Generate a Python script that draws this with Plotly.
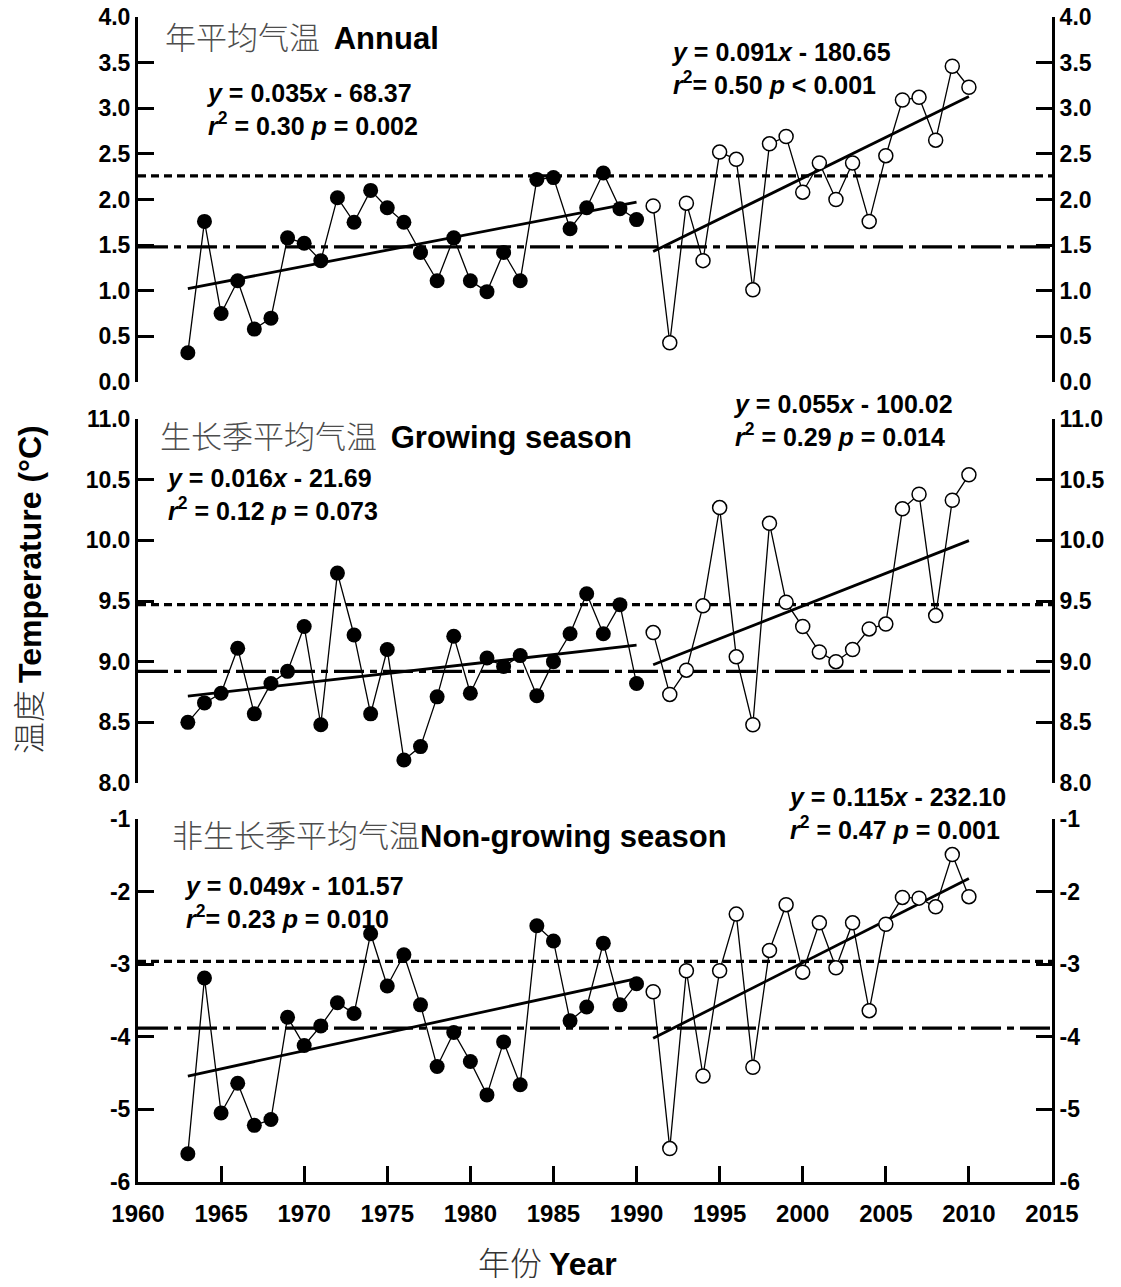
import numpy as np
import plotly.graph_objects as go

# ---- data -----------------------------------------------------------------
years_early = list(range(1963, 1991))
years_late = list(range(1991, 2011))

annual_early = [0.32, 1.76, 0.75, 1.11, 0.58, 0.70, 1.58, 1.52, 1.33, 2.02,
                1.75, 2.10, 1.91, 1.75, 1.42, 1.11, 1.58, 1.11, 0.99, 1.42,
                1.11, 2.22, 2.24, 1.68, 1.91, 2.29, 1.90, 1.78]
annual_late = [1.93, 0.43, 1.96, 1.33, 2.52, 2.44, 1.01, 2.61, 2.69, 2.08,
               2.40, 2.00, 2.40, 1.76, 2.48, 3.09, 3.12, 2.65, 3.46, 3.23]

grow_early = [8.50, 8.66, 8.74, 9.11, 8.57, 8.82, 8.92, 9.29, 8.48, 9.73,
              9.22, 8.57, 9.10, 8.19, 8.30, 8.71, 9.21, 8.74, 9.03, 8.96,
              9.05, 8.72, 9.00, 9.23, 9.56, 9.23, 9.47, 8.82]
grow_late = [9.24, 8.73, 8.93, 9.46, 10.27, 9.04, 8.48, 10.14, 9.49, 9.29,
             9.08, 9.00, 9.10, 9.27, 9.31, 10.26, 10.38, 9.38, 10.33, 10.54]

nongrow_early = [-5.61, -3.19, -5.05, -4.64, -5.22, -5.14, -3.73, -4.12, -3.85, -3.53,
                 -3.68, -2.58, -3.30, -2.87, -3.56, -4.41, -3.94, -4.34, -4.80, -4.07,
                 -4.66, -2.47, -2.68, -3.78, -3.59, -2.71, -3.56, -3.27]
nongrow_late = [-3.38, -5.54, -3.09, -4.54, -3.09, -2.31, -4.42, -2.81, -2.18, -3.11,
                -2.43, -3.05, -2.43, -3.64, -2.45, -2.08, -2.09, -2.21, -1.49, -2.07]

# period means drawn as horizontal reference lines (late = dashed, early = dash-dot)
mean_late = [2.26, 9.47, -2.96]
mean_early = [1.48, 8.92, -3.88]

panel_ranges = [[0, 4], [8, 11], [-6, -1]]
panel_ticks = [
    [0.0, 0.5, 1.0, 1.5, 2.0, 2.5, 3.0, 3.5, 4.0],
    [8.0, 8.5, 9.0, 9.5, 10.0, 10.5, 11.0],
    [-6, -5, -4, -3, -2, -1],
]
panel_ticktext = [
    ["0.0", "0.5", "1.0", "1.5", "2.0", "2.5", "3.0", "3.5", "4.0"],
    ["8.0", "8.5", "9.0", "9.5", "10.0", "10.5", "11.0"],
    ["-6", "-5", "-4", "-3", "-2", "-1"],
]
x_ticks = [1960, 1965, 1970, 1975, 1980, 1985, 1990, 1995, 2000, 2005, 2010, 2015]

panel_titles = [
    ("年平均气温  ", "Annual"),
    ("生长季平均气温  ", "Growing season"),
    ("非生长季平均气温", "Non-growing season"),
]
eq_early = [
    ("0.035", "68.37", "r<sup>2</sup> = 0.30", "p = 0.002"),
    ("0.016", "21.69", "r<sup>2</sup> = 0.12", "p = 0.073"),
    ("0.049", "101.57", "r<sup>2</sup>= 0.23", "p = 0.010"),
]
eq_late = [
    ("0.091", "180.65", "r<sup>2</sup>= 0.50", "p &lt; 0.001"),
    ("0.055", "100.02", "r<sup>2</sup> = 0.29", "p = 0.014"),
    ("0.115", "232.10", "r<sup>2</sup> = 0.47", "p = 0.001"),
]

# ---- page geometry (pixels) -------------------------------------------------
W, H = 1121, 1287
ML, MR, MT, MB = 138, 69, 17, 105
PW, PH = W - ML - MR, H - MT - MB


def px(x):
    return (x - ML) / PW


def py(y):
    return (H - MB - y) / PH


domains = [[py(382), 1.0], [py(783), py(419)], [0.0, py(819)]]

SANS = "Liberation Sans, Arial, sans-serif"
CJK = "Noto Sans CJK SC"

fig = go.Figure()

series = [
    (annual_early, annual_late),
    (grow_early, grow_late),
    (nongrow_early, nongrow_late),
]

for i, (early, late) in enumerate(series):
    y_left = "y" if i == 0 else f"y{i + 1}"
    y_right = f"y{i + 4}"
    # least-squares trend lines for each period
    for yrs, vals, yref in ((years_early, early, y_left), (years_late, late, y_right)):
        k, b = np.polyfit(yrs, vals, 1)
        xs = [yrs[0], yrs[-1]]
        fig.add_trace(go.Scatter(
            x=xs, y=[k * xs[0] + b, k * xs[1] + b], mode="lines",
            line=dict(color="black", width=2.8), yaxis=yref,
            showlegend=False, hoverinfo="skip"))
    fig.add_trace(go.Scatter(
        x=years_early, y=early, mode="lines+markers", yaxis=y_left,
        line=dict(color="black", width=1.3),
        marker=dict(symbol="circle", size=15, color="black"),
        showlegend=False, cliponaxis=False))
    fig.add_trace(go.Scatter(
        x=years_late, y=late, mode="lines+markers", yaxis=y_right,
        line=dict(color="black", width=1.3),
        marker=dict(symbol="circle", size=14, color="white",
                    line=dict(color="black", width=1.5)),
        showlegend=False, cliponaxis=False))

    # period-mean reference lines
    fig.add_shape(type="line", xref="x domain", x0=0, x1=1,
                  yref=y_left, y0=mean_late[i], y1=mean_late[i],
                  line=dict(color="black", width=3.2, dash="8px,5px"), layer="below")
    fig.add_shape(type="line", xref="x domain", x0=0, x1=1,
                  yref=y_left, y0=mean_early[i], y1=mean_early[i],
                  line=dict(color="black", width=3.2, dash="30px,6px,7px,6px"), layer="below")

axis_common = dict(
    showgrid=False, zeroline=False, showline=True, linecolor="black", linewidth=3,
    ticks="inside", ticklen=16, tickwidth=3, tickcolor="black", automargin=False,
    tickfont=dict(family=SANS, size=23, color="black", weight="bold"),
)

layout = dict(
    width=W, height=H,
    margin=dict(l=ML, r=MR, t=MT, b=MB, autoexpand=False),
    paper_bgcolor="white", plot_bgcolor="white",
    showlegend=False,
    xaxis=dict(
        domain=[0, 1], range=[1960, 2015], anchor="y3", automargin=False,
        tickvals=x_ticks, ticktext=[str(t) for t in x_ticks],
        showgrid=False, zeroline=False, showline=True, linecolor="black", linewidth=3,
        ticks="inside", ticklen=16, tickwidth=3, tickcolor="black",
        ticklabelstandoff=8,
        tickfont=dict(family=SANS, size=24, color="black", weight="bold"),
    ),
)

for i in range(3):
    left_name = "yaxis" if i == 0 else f"yaxis{i + 1}"
    right_name = f"yaxis{i + 4}"
    left_id = "y" if i == 0 else f"y{i + 1}"
    layout[left_name] = dict(
        domain=domains[i], range=panel_ranges[i], anchor="x",
        tickvals=panel_ticks[i], ticktext=panel_ticktext[i], **axis_common)
    layout[right_name] = dict(
        domain=domains[i], range=panel_ranges[i], anchor="x",
        overlaying=left_id, side="right",
        tickvals=panel_ticks[i], ticktext=panel_ticktext[i], **axis_common)

fig.update_layout(**layout)

# panel titles
title_pos = [(163, 35), (158, 435), (170, 833)]
for (cn, en), (tx, ty) in zip(panel_titles, title_pos):
    fig.add_annotation(
        xref="paper", yref="paper", x=px(tx), y=py(ty),
        xanchor="left", yanchor="middle", showarrow=False,
        text=f"<span style='font-family:{CJK};font-weight:300;color:#4d4d4d'>{cn}</span><b>{en}</b>",
        font=dict(family=SANS, size=31, color="black"))

# regression equations
eq_early_pos = [(204, 109), (164, 494), (182, 902)]
eq_late_pos = [(669, 68), (731, 420), (786, 813)]


def eq_text(slope, icpt, r2, pv):
    r2 = r2.replace("r<sup>", "<i>r</i><sup>")
    pv = pv.replace("p ", "<i>p</i> ", 1)
    return f"<b><i>y</i> = {slope}<i>x</i> - {icpt}<br>{r2} {pv}</b>"


for eqs, poss in ((eq_early, eq_early_pos), (eq_late, eq_late_pos)):
    for eq, (tx, ty) in zip(eqs, poss):
        fig.add_annotation(
            xref="paper", yref="paper", x=px(tx), y=py(ty),
            xanchor="left", yanchor="middle", align="left", showarrow=False,
            text=eq_text(*eq),
            font=dict(family=SANS, size=25, color="black"))

# axis titles
fig.add_annotation(
    xref="paper", yref="paper", x=px(27), y=py(590),
    xanchor="center", yanchor="middle", textangle=-90, showarrow=False,
    text=f"<span style='font-family:{CJK};font-weight:300;color:#333'>温度 </span><b>Temperature (°C)</b>",
    font=dict(family=SANS, size=32, color="black"))
fig.add_annotation(
    xref="paper", yref="paper", x=px(547), y=py(1261),
    xanchor="center", yanchor="middle", showarrow=False,
    text=f"<span style='font-family:{CJK};font-weight:300;color:#333'>年份 </span><b>Year</b>",
    font=dict(family=SANS, size=32, color="black"))

fig.write_html("out.html")
